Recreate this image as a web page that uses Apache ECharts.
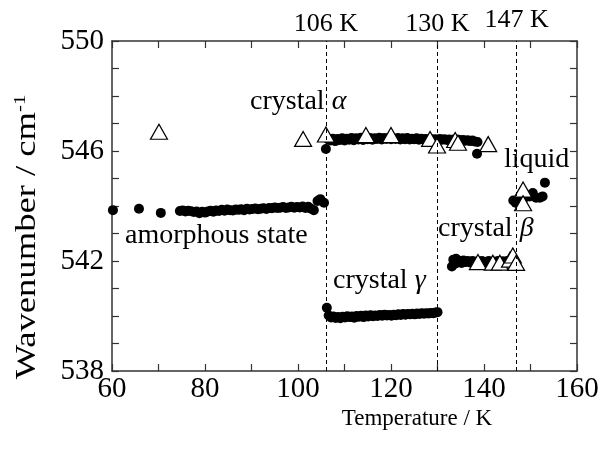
<!DOCTYPE html>
<html>
<head>
<meta charset="utf-8">
<script src="https://cdn.jsdelivr.net/npm/echarts@6/dist/echarts.min.js"></script>
<style>
  html, body { margin: 0; padding: 0; background: #fff; }
  #chart { width: 609px; height: 450px; }
</style>
</head>
<body>
<div id="chart"></div>
<script>
// heating run, filled circles: [temperature K, wavenumber cm-1]
const amorphous = [
  [60.2, 543.85], [65.8, 543.9], [70.5, 543.75], [74.6, 543.82], [75.2, 543.84], [75.8, 543.8],
  [76.4, 543.83], [77.0, 543.81], [77.6, 543.78], [78.2, 543.8], [78.8, 543.74], [79.4, 543.79],
  [80.0, 543.76], [80.6, 543.8], [81.2, 543.83], [81.8, 543.79], [82.4, 543.84], [83.0, 543.82],
  [83.6, 543.86], [84.2, 543.83], [84.8, 543.87], [85.4, 543.85], [86.0, 543.84], [86.6, 543.87],
  [87.2, 543.86], [87.8, 543.88], [88.4, 543.85], [89.0, 543.9], [89.6, 543.87], [90.2, 543.89],
  [90.8, 543.91], [91.4, 543.88], [92.0, 543.9], [92.6, 543.92], [93.2, 543.89], [93.8, 543.93],
  [94.4, 543.92], [95.0, 543.95], [95.6, 543.93], [96.2, 543.94], [96.8, 543.96], [97.4, 543.93],
  [98.0, 543.95], [98.6, 543.97], [99.2, 543.94], [99.8, 543.96], [100.4, 543.95], [101.0, 543.98],
  [101.6, 543.93], [102.2, 543.97], [102.8, 543.9], [103.4, 543.85], [104.2, 544.18], [104.8, 544.25],
  [105.6, 544.12]
]
const crystalAlpha = [
  [106.0, 546.07], [106.5, 546.42], [107.0, 546.38], [107.5, 546.45], [108.0, 546.36], [108.5, 546.44],
  [109.0, 546.4], [109.5, 546.46], [110.0, 546.38], [110.5, 546.45], [111.0, 546.41], [111.5, 546.47],
  [112.0, 546.39], [112.5, 546.46], [113.0, 546.42], [113.5, 546.48], [114.0, 546.4], [114.5, 546.46],
  [115.0, 546.43], [115.5, 546.47], [116.0, 546.41], [116.5, 546.46], [117.0, 546.44], [117.5, 546.48],
  [118.0, 546.42], [118.5, 546.47], [119.0, 546.44], [119.5, 546.48], [120.0, 546.43], [120.5, 546.46],
  [121.0, 546.44], [121.5, 546.47], [122.0, 546.42], [122.5, 546.46], [123.0, 546.43], [123.5, 546.47],
  [124.0, 546.42], [124.5, 546.45], [125.0, 546.43], [125.5, 546.46], [126.0, 546.41], [126.5, 546.45],
  [127.0, 546.42], [127.5, 546.44], [128.0, 546.4], [128.5, 546.44], [129.0, 546.41], [129.5, 546.43],
  [130.0, 546.4], [130.5, 546.44], [131.0, 546.41], [131.5, 546.43], [132.0, 546.4], [132.5, 546.42],
  [133.0, 546.39], [133.5, 546.42], [134.0, 546.38], [134.5, 546.41], [135.0, 546.38], [135.5, 546.4],
  [136.0, 546.37], [136.5, 546.39], [137.0, 546.36], [137.5, 546.38], [138.0, 546.35], [138.6, 546.33],
  [138.5, 545.9]
]
const crystalGamma = [
  [106.2, 540.3], [106.6, 540.02], [107.1, 539.95], [107.6, 539.98], [108.1, 539.93], [108.6, 539.96],
  [109.1, 539.92], [109.6, 539.97], [110.1, 539.95], [110.6, 539.99], [111.1, 539.96], [111.6, 539.98],
  [112.1, 539.94], [112.6, 540.0], [113.1, 539.97], [113.6, 540.01], [114.1, 539.96], [114.6, 540.02],
  [115.1, 539.98], [115.6, 540.03], [116.1, 539.99], [116.6, 540.02], [117.1, 540.0], [117.6, 540.04],
  [118.1, 540.01], [118.6, 540.05], [119.1, 540.02], [119.6, 540.04], [120.1, 540.01], [120.6, 540.05],
  [121.1, 540.03], [121.6, 540.06], [122.1, 540.04], [122.6, 540.07], [123.1, 540.05], [123.6, 540.07],
  [124.1, 540.06], [124.6, 540.08], [125.1, 540.06], [125.6, 540.09], [126.1, 540.07], [126.6, 540.1],
  [127.1, 540.08], [127.6, 540.1], [128.1, 540.09], [128.6, 540.11], [129.1, 540.1], [129.6, 540.13],
  [130.0, 540.14]
]
const crystalBeta = [
  [133.1, 541.8], [133.4, 542.05], [133.7, 541.9], [134.0, 542.08], [134.4, 541.95], [134.8, 542.0],
  [135.2, 541.93], [135.6, 542.02], [136.0, 541.96], [136.5, 542.0], [137.0, 541.95], [137.5, 542.0],
  [138.0, 541.97], [138.5, 541.98], [139.0, 541.95], [139.5, 542.0], [140.0, 541.97], [140.5, 541.95],
  [141.0, 542.0], [141.5, 541.96], [142.0, 541.98], [142.5, 541.95], [143.0, 542.0], [143.5, 541.96],
  [144.0, 541.99], [144.5, 541.95], [145.0, 542.0], [145.5, 541.97], [146.0, 541.98]
]
const liquid = [
  [146.3, 544.2], [146.8, 544.12], [147.3, 544.1], [147.9, 544.2], [148.6, 544.28], [149.2, 544.4],
  [149.8, 544.35], [150.5, 544.47], [151.2, 544.3], [152.0, 544.3], [152.6, 544.35], [153.1, 544.85]
]
// open triangles
const triangles = [
  [70.1, 546.7], [101.1, 546.44], [106.0, 546.6], [114.6, 546.58], [120.0, 546.58], [128.4, 546.44],
  [129.9, 546.2], [133.8, 546.4], [134.4, 546.3], [140.9, 546.25],
  [138.7, 541.96], [141.9, 541.94], [143.4, 541.94], [145.6, 542.05], [146.2, 542.2], [146.9, 541.93],
  [148.4, 544.6], [148.4, 544.1]
]
// transition temperatures (dashed lines)
const transitions = [106, 130, 147]

const serif = '"Liberation Serif", "Times New Roman", serif'
const frame = '#333'

const chart = echarts.init(document.getElementById('chart'))

function dots(data) {
  return {
    type: 'scatter',
    data: data,
    symbol: 'circle',
    symbolSize: 10,
    itemStyle: { color: '#000', opacity: 1 },
    silent: true
  }
}

const axisBase = {
  axisLine: { show: true, lineStyle: { color: frame, width: 1.5 } },
  axisTick: { show: true, inside: true, length: 7, lineStyle: { color: frame, width: 1.2 } },
  splitLine: { show: false }
}

const option = {
  backgroundColor: '#fff',
  animation: false,
  grid: { left: 112, right: 32, top: 41, bottom: 79, containLabel: false },
  xAxis: [{
    type: 'value', min: 60, max: 160, interval: 10, position: 'bottom',
    ...axisBase,
    axisLabel: {
      margin: 4, color: '#000', fontFamily: serif, fontSize: 29,
      formatter: v => (v % 20 === 0 ? String(v) : '')
    }
  }, {
    type: 'value', min: 60, max: 160, interval: 10, position: 'top',
    ...axisBase,
    axisLabel: { show: false }
  }],
  yAxis: [{
    type: 'value', min: 538, max: 550, interval: 1, position: 'left',
    ...axisBase,
    axisLabel: {
      margin: 8, color: '#000', fontFamily: serif, fontSize: 29,
      formatter: v => ((v - 538) % 4 === 0 ? String(v) : '')
    }
  }, {
    type: 'value', min: 538, max: 550, interval: 1, position: 'right',
    ...axisBase,
    axisLabel: { show: false }
  }],
  series: [
    Object.assign(dots(amorphous), {
      markLine: {
        silent: true,
        symbol: 'none',
        lineStyle: { color: '#000', width: 1, type: [4, 3] },
        label: {
          show: true, position: 'end', color: '#000', fontFamily: serif, fontSize: 26,
          formatter: p => p.value + ' K'
        },
        data: transitions.map(t => ({
          xAxis: t,
          label: { distance: t === 147 ? 8 : 4 }
        }))
      }
    }),
    dots(crystalAlpha),
    dots(crystalGamma),
    dots(crystalBeta),
    dots(liquid),
    {
      type: 'scatter',
      data: triangles,
      symbol: 'triangle',
      symbolSize: [17, 15],
      itemStyle: { color: '#fff', borderColor: '#000', borderWidth: 1.2, opacity: 1 },
      silent: true
    }
  ],
  graphic: [
    {
      type: 'text', x: 250, y: 102,
      style: {
        text: '{a|crystal }{g|α}',
        verticalAlign: 'middle',
        rich: {
          a: { fontFamily: serif, fontSize: 28, fill: '#000' },
          g: { fontFamily: serif, fontSize: 28, fontStyle: 'italic', fill: '#000' }
        }
      }
    },
    {
      type: 'text', x: 504, y: 160,
      style: { text: 'liquid', fontFamily: serif, fontSize: 28, fill: '#000', verticalAlign: 'middle' }
    },
    {
      type: 'text', x: 125, y: 236,
      style: { text: 'amorphous state', fontFamily: serif, fontSize: 28, fill: '#000', verticalAlign: 'middle' }
    },
    {
      type: 'text', x: 438, y: 229,
      style: {
        text: '{a|crystal }{g|β}',
        verticalAlign: 'middle',
        rich: {
          a: { fontFamily: serif, fontSize: 28, fill: '#000' },
          g: { fontFamily: serif, fontSize: 28, fontStyle: 'italic', fill: '#000' }
        }
      }
    },
    {
      type: 'text', x: 333, y: 281,
      style: {
        text: '{a|crystal }{g|γ}',
        verticalAlign: 'middle',
        rich: {
          a: { fontFamily: serif, fontSize: 28, fill: '#000' },
          g: { fontFamily: serif, fontSize: 28, fontStyle: 'italic', fill: '#000' }
        }
      }
    },
    {
      type: 'text', x: 417, y: 419,
      style: { text: 'Temperature / K', fontFamily: serif, fontSize: 23, fill: '#000', align: 'center', verticalAlign: 'middle' }
    },
    {
      // y title is drawn stretched along its length in the original
      type: 'text', x: 27, y: 237, rotation: Math.PI / 2, scaleX: 1.22, scaleY: 1,
      style: {
        text: '{a|Wavenumber / cm}{s|-1}',
        align: 'center',
        verticalAlign: 'middle',
        rich: {
          a: { fontFamily: serif, fontSize: 30, fill: '#000' },
          s: { fontFamily: serif, fontSize: 17, fill: '#000', verticalAlign: 'top' }
        }
      }
    }
  ]
}

chart.setOption(option)
</script>
</body>
</html>
